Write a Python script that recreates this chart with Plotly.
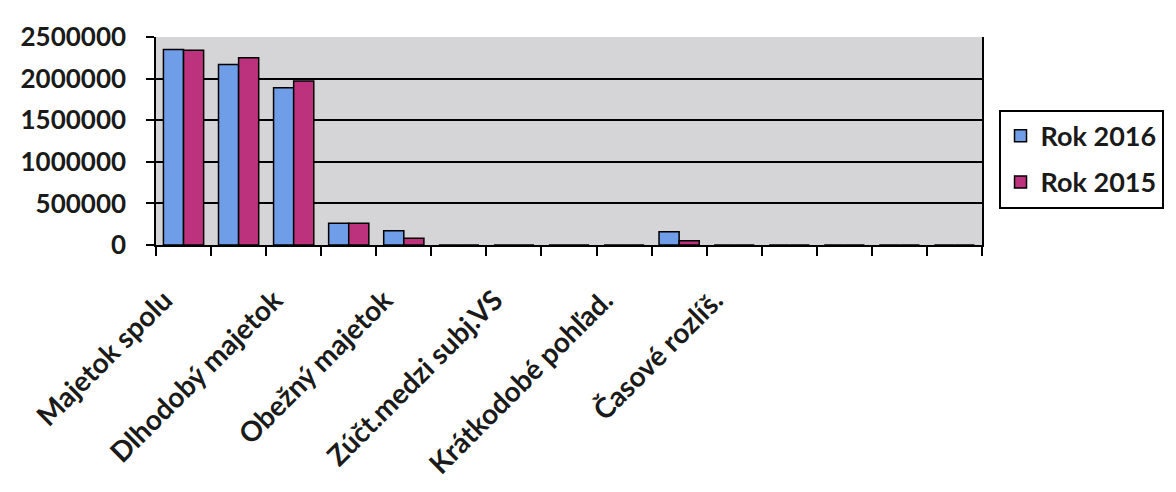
import plotly.graph_objects as go

# Category slots (15 on the axis, every second one labelled as in the source)
slots = list(range(1, 16))
tick_slots = [1, 3, 5, 7, 9, 11]
tick_labels = ["Majetok spolu", "Dlhodobý majetok", "Obežný majetok",
               "Zúčt.medzi subj.VS", "Krátkodobé pohľad.", "Časové rozlíš."]

rok_2016 = [2350000, 2170000, 1890000, 260000, 170000, 0, 0, 0, 0, 160000, 0, 0, 0, 0, 0]
rok_2015 = [2340000, 2250000, 1970000, 260000, 80000, 0, 0, 0, 0, 50000, 0, 0, 0, 0, 0]

y_ticks = [0, 500000, 1000000, 1500000, 2000000, 2500000]
boundaries = [s - 0.5 for s in slots] + [slots[-1] + 0.5]
label_shift = 0.35  # rotated labels end a little left of the slot centre

FONT = "Lato"
TXT = "#1a1a1a"
fig = go.Figure()
fig.add_trace(go.Bar(x=slots, y=rok_2016, name="Rok 2016", legendgroup="a",
                     marker=dict(color="#6f9de8", line=dict(color="black", width=1.5))))
fig.add_trace(go.Bar(x=slots, y=rok_2015, name="Rok 2015", legendgroup="b",
                     marker=dict(color="#bc327c", line=dict(color="black", width=1.5))))
fig.add_trace(go.Scatter(x=[], y=[], xaxis="x2", yaxis="y", showlegend=False))

fig.update_layout(
    width=1168, height=484,
    margin=dict(l=135, r=186, t=24, b=240),
    paper_bgcolor="white", plot_bgcolor="#d5d5d8",
    barmode="group", bargap=0.27, bargroupgap=0,
    font=dict(family=FONT, size=24, color=TXT, weight="bold"),
    showlegend=True,
    legend=dict(x=1.02, xanchor="left", y=0.65, yanchor="top",
                bordercolor="black", borderwidth=2, bgcolor="white",
                font=dict(family=FONT, size=27, color=TXT, weight="bold"),
                tracegroupgap=8, traceorder="grouped"),
    xaxis=dict(range=[0.5, 15.5], tickmode="array",
               tickvals=[s - label_shift for s in tick_slots],
               ticktext=tick_labels, tickangle=-45, ticks="",
               ticklabelstandoff=26,
               showgrid=False, zeroline=False,
               showline=True, linecolor="black", linewidth=1.5,
               tickfont=dict(family=FONT, size=28, color=TXT, weight="bold")),
    xaxis2=dict(range=[0.5, 15.5], overlaying="x", anchor="y", side="bottom",
                tickmode="array", tickvals=boundaries, ticks="outside",
                ticklen=10, tickwidth=2, tickcolor="black",
                showticklabels=False, showgrid=False, zeroline=False, showline=False),
    yaxis=dict(range=[0, 2500000], tickmode="array", tickvals=y_ticks,
               tickformat="d", ticks="outside", ticklen=8, tickwidth=2,
               tickcolor="black", showgrid=True, gridcolor="black", gridwidth=1.5,
               zeroline=False, showline=True, linecolor="black", linewidth=1.5,
               mirror=True, ticklabelstandoff=15,
               tickfont=dict(family=FONT, size=26, color=TXT, weight="bold")),
)

fig.write_html("out.html")
